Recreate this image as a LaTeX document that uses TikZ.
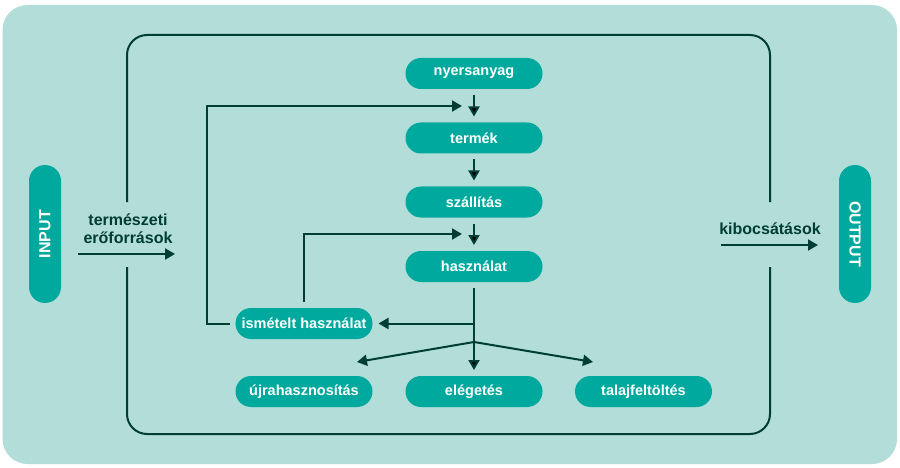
\documentclass[tikz,border=0pt]{standalone}
\usepackage{fontspec}
\setmainfont{Liberation Sans}
\usetikzlibrary{arrows.meta}
\definecolor{KorHatter}{RGB}{179,221,216}
\definecolor{KorTurkiz}{RGB}{0,169,157}
\definecolor{KorSotet}{RGB}{0,61,52}

\begin{document}
\begin{tikzpicture}[x=1pt, y=-1pt,
    pill/.style={shape=rectangle, rounded corners=15.5pt, fill=KorTurkiz, text=white,
        font=\bfseries\fontsize{14.5}{16}\selectfont, minimum width=137pt, minimum height=31pt,
        inner sep=0pt, outer sep=6pt},
    szoveg/.style={text=KorSotet, font=\bfseries\fontsize{16}{18}\selectfont, inner sep=0pt},
    vonal/.style={line width=2pt, draw=KorSotet},
    flow/.style={vonal, -{Triangle[length=10pt, width=11pt]}}]
    \useasboundingbox (0,0) rectangle (900,468);
    \fill[KorHatter, rounded corners=25pt] (2.5,5) rectangle (897,464);

    % keret
    \draw[vonal, rounded corners=20pt] (127,202) -- (127,35) -- (770,35) -- (770,202);
    \draw[vonal, rounded corners=20pt] (127,267) -- (127,434) -- (770,434) -- (770,267);

    \node[pill] (nyers)  at (474,73.5)  {nyersanyag};
    \node[pill] (termek) at (474,138)   {termék};
    \node[pill] (szall)  at (474,202)   {szállítás};
    \node[pill] (haszn)  at (474,266.5) {használat};
    \node[pill] (ismet)  at (304,323.5) {ismételt használat};
    \node[pill] (ujra)   at (304,391.5) {újrahasznosítás};
    \node[pill] (eleg)   at (474,391.5) {elégetés};
    \node[pill] (talaj)  at (643.5,391.5) {talajfeltöltés};
    \node[pill, rotate=90, minimum width=138pt, minimum height=32pt, rounded corners=16pt,
          font=\bfseries\fontsize{16}{18}\selectfont] (input) at (45,234) {INPUT};
    \node[pill, rotate=-90, minimum width=138pt, minimum height=32pt, rounded corners=16pt,
          font=\bfseries\fontsize{16}{18}\selectfont] (output) at (855,234) {OUTPUT};

    \node[szoveg, align=center, anchor=south] (termeszeti) at (128,244) {természeti\\erőforrások};
    \node[szoveg, anchor=base] (kibocs) at (770,234) {kibocsátások};

    \coordinate (natbe) at (78,254);
    \coordinate (natki) at (175,254);
    \coordinate (kibe)  at (721,245);
    \coordinate (kiki)  at (818,245);
    \coordinate (sarok1)  at (207,106);
    \coordinate (vissza1) at (462,106);
    \coordinate (vissza2) at (462,234);
    \coordinate (elagazas)  at (474,342);
    \coordinate (ujravege)  at (357,362);
    \coordinate (talajvege) at (593,362);

    \path[flow] (nyers) edge (termek)
                (termek) edge (szall)
                (szall) edge (haszn)
                (haszn) edge (eleg);
    \draw[flow] (ismet.west) -| (sarok1) -- (vissza1);
    \draw[flow] (ismet.north) |- (vissza2);
    \draw[flow] (haszn.south |- ismet.east) -- (ismet.east);
    \draw[flow] (elagazas) -- (ujravege);
    \draw[flow] (elagazas) -- (talajvege);
    \draw[flow] (natbe) -- (natki);
    \draw[flow] (kibe) -- (kiki);
\end{tikzpicture}
\end{document}
